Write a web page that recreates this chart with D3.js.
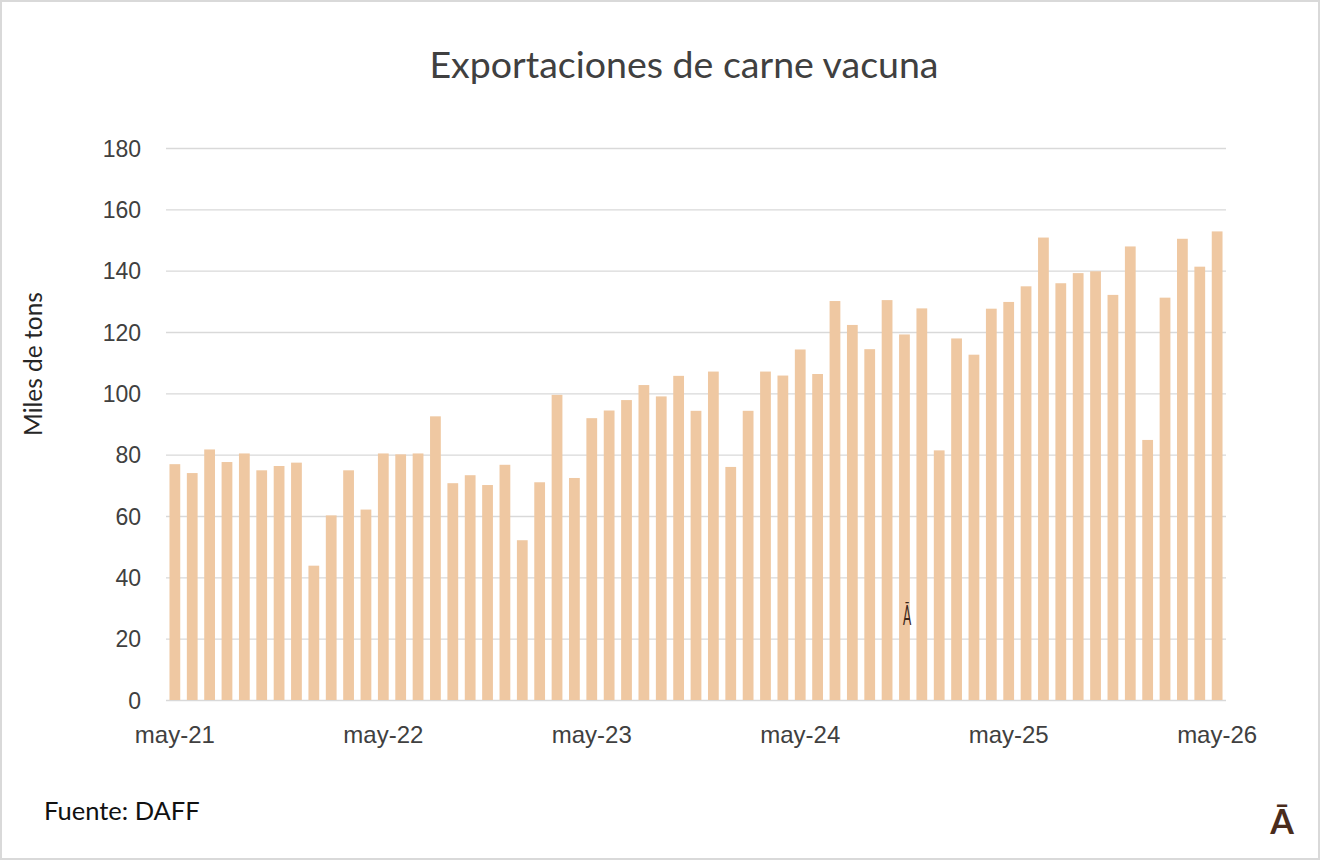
<!DOCTYPE html>
<html>
<head>
  <meta charset="utf-8">
  <title>Exportaciones de carne vacuna</title>
  <script src="https://cdn.jsdelivr.net/npm/d3@7"></script>
  <style>
    html, body { margin: 0; padding: 0; background: #fff; }
    svg { display: block; font-family: Lato, "Open Sans", sans-serif; }
    .grid line { stroke: #d9d9d9; stroke-width: 1.3; }
    .grid path { display: none; }
    .axis path, .axis line { display: none; }
    .axis text { fill: #404040; }
  </style>
</head>
<body>
<svg id="chart" width="1320" height="860"></svg>
<script>
  // monthly beef exports, thousand tonnes, may-21 .. may-26
  var monthNames = ['ene', 'feb', 'mar', 'abr', 'may', 'jun', 'jul', 'ago', 'sep', 'oct', 'nov', 'dic'];
  var exportValues = [
    76.9, 74.0, 81.7, 77.6, 80.4, 74.9, 76.3, 77.4, 43.8, 60.2, 74.9, 62.1,
    80.4, 80.1, 80.4, 92.5, 70.7, 73.3, 70.1, 76.7, 52.1, 71.0, 99.5, 72.4,
    91.9, 94.4, 97.8, 102.7, 99.0, 105.7, 94.3, 107.1, 76.0, 94.3, 107.1, 105.8,
    114.3, 106.3, 130.1, 122.3, 114.4, 130.4, 119.2, 127.7, 81.4, 117.9, 112.6, 127.6,
    129.8, 134.9, 150.8, 135.9, 139.2, 139.8, 132.1, 147.9, 84.8, 131.2, 150.4, 141.3,
    152.8
  ];
  var yTicks = [0, 20, 40, 60, 80, 100, 120, 140, 160, 180];
  var xTickLabels = ['may-21', 'may-22', 'may-23', 'may-24', 'may-25', 'may-26'];

  // build category labels starting at may-21
  var categories = exportValues.map(function(v, i) {
    var m = (4 + i) % 12;
    var y = 21 + Math.floor((4 + i) / 12);
    return monthNames[m] + '-' + y;
  });

  var svg = d3.select('#chart');
  var W = 1320, H = 860;
  var margin = {left: 166, right: 94, top: 148, bottom: 160};

  // outer frame
  svg.append('rect')
    .attr('x', 1).attr('y', 1)
    .attr('width', W - 2).attr('height', H - 2)
    .attr('fill', '#fff')
    .attr('stroke', '#d9d9d9')
    .attr('stroke-width', 2);

  var x = d3.scaleBand()
    .domain(categories)
    .range([margin.left, W - margin.right])
    .paddingInner(0.38)
    .paddingOuter(0.2);

  var y = d3.scaleLinear()
    .domain([0, 180])
    .range([H - margin.bottom, margin.top]);

  // gridlines
  svg.append('g')
    .attr('class', 'grid')
    .attr('transform', 'translate(' + margin.left + ',0)')
    .call(d3.axisLeft(y).tickValues(yTicks).tickSize(-(W - margin.left - margin.right)).tickFormat(''));

  // bars
  svg.append('g').selectAll('rect')
    .data(exportValues)
    .join('rect')
      .attr('x', function(d, i) { return x(categories[i]); })
      .attr('y', function(d) { return y(d); })
      .attr('width', x.bandwidth())
      .attr('height', function(d) { return y(0) - y(d); })
      .attr('fill', '#efc8a2');

  // y axis labels
  svg.append('g')
    .attr('class', 'axis')
    .attr('transform', 'translate(' + (margin.left - 25) + ',0)')
    .call(d3.axisLeft(y).tickValues(yTicks).tickSize(0).tickPadding(0))
    .selectAll('text').attr('dy', '0.35em').style('font-size', '23px');

  // x axis labels, one per year
  svg.append('g')
    .attr('class', 'axis')
    .attr('transform', 'translate(0,' + (H - margin.bottom + 21) + ')')
    .call(d3.axisBottom(x).tickValues(xTickLabels).tickSize(0).tickPadding(0))
    .selectAll('text').attr('dy', '0.9em').style('font-size', '24px');

  // title
  svg.append('text')
    .attr('x', 684).attr('y', 78)
    .attr('text-anchor', 'middle')
    .attr('fill', '#404040')
    .style('font-size', '37.5px')
    .text('Exportaciones de carne vacuna');

  // y axis title
  svg.append('text')
    .attr('transform', 'translate(42,364) rotate(-90)')
    .attr('text-anchor', 'middle')
    .attr('fill', '#262626')
    .style('font-size', '24.5px')
    .text('Miles de tons');

  // source
  svg.append('text')
    .attr('x', 44).attr('y', 820)
    .attr('fill', '#111')
    .style('font-size', '25.5px')
    .text('Fuente: DAFF');

  // logo marks
  svg.append('text')
    .attr('x', 1282).attr('y', 834)
    .attr('text-anchor', 'middle')
    .attr('fill', '#4a2c1c')
    .style('font-size', '34px')
    .style('font-weight', 'bold')
    .text('Ā');

  svg.append('text')
    .attr('x', 907).attr('y', 625)
    .attr('text-anchor', 'middle')
    .attr('fill', '#3a2618')
    .attr('transform', 'translate(907,0) scale(0.45,1) translate(-907,0)')
    .style('font-size', '27px')
    .text('Ā');
</script>
</body>
</html>
